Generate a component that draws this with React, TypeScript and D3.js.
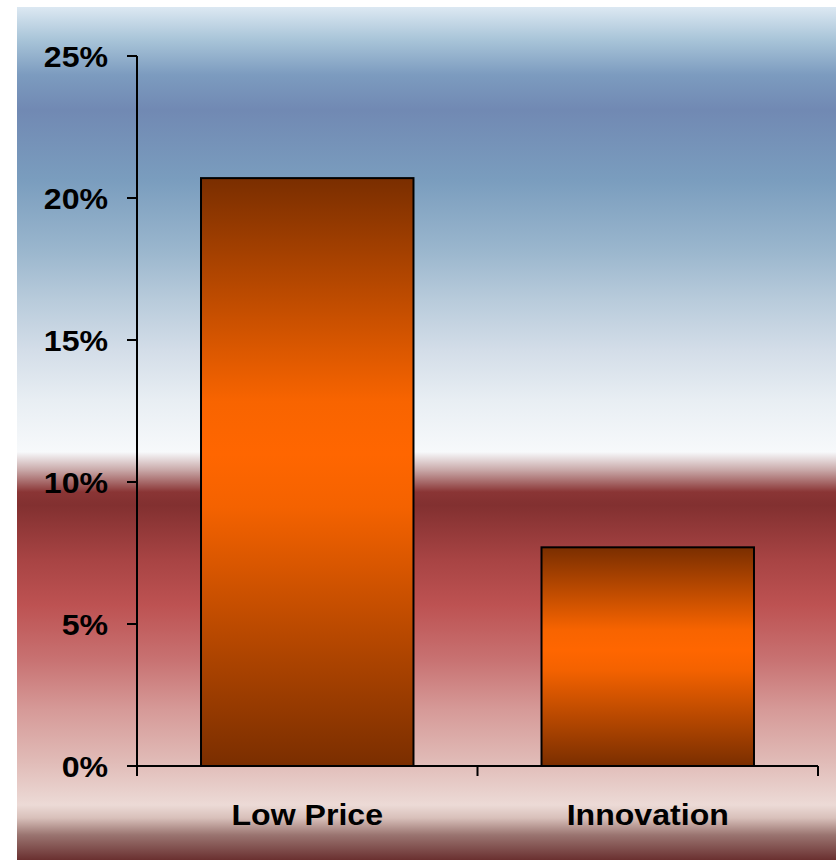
import React from "react";
import * as d3 from "d3";

const categories: string[] = ["Low Price", "Innovation"];
const values: number[] = [0.207, 0.077];
const yTicks: number[] = [0, 0.05, 0.1, 0.15, 0.2, 0.25];

const W = 836;
const H = 860;
const M = { left: 137, right: 18, top: 56, bottom: 94 };
const SX = 1.07;

export default function App() {
  const x = d3
    .scaleBand<string>()
    .domain(categories)
    .range([M.left, W - M.right])
    .paddingInner(0.376)
    .paddingOuter(0.188);
  const xOuter = d3.scaleBand<string>().domain(categories).range([M.left, W - M.right]);
  const y = d3.scaleLinear().domain([0, 0.25]).range([H - M.bottom, M.top]);
  const fmt = d3.format(".0%");
  const y0 = y(0);

  const bgStops: [number, string][] = [
    [7, "#dce8f2"],
    [40, "#a8c4d8"],
    [75, "#7c9bbf"],
    [110, "#7189b3"],
    [180, "#7a9dbe"],
    [250, "#9ab6cd"],
    [300, "#b8cbdb"],
    [350, "#d3dde8"],
    [400, "#e8eef3"],
    [452, "#f7f9fb"],
    [470, "#c9a9a9"],
    [492, "#8a3535"],
    [505, "#823030"],
    [560, "#a84444"],
    [605, "#bd5252"],
    [660, "#c87272"],
    [710, "#d69a98"],
    [760, "#e0bab6"],
    [805, "#ecdad6"],
    [818, "#d8c0ba"],
    [835, "#9a7470"],
    [860, "#6a3030"],
  ];

  return (
    <svg
      width={W}
      height={H}
      style={{ position: "absolute", left: 0, top: 0, background: "#fff" }}
      fontFamily="'Liberation Sans', Arial, sans-serif"
    >
      <defs>
        <linearGradient id="bg" gradientUnits="userSpaceOnUse" x1={0} y1={7} x2={0} y2={860}>
          {bgStops.map(([p, c], i) => (
            <stop key={i} offset={(p - 7) / (860 - 7)} stopColor={c} />
          ))}
        </linearGradient>
        <linearGradient id="bar" x1={0} y1={0} x2={0} y2={1}>
          <stop offset={0} stopColor="#7a2e00" />
          <stop offset={0.38} stopColor="#f86400" />
          <stop offset={0.47} stopColor="#ff6600" />
          <stop offset={0.56} stopColor="#f46200" />
          <stop offset={1} stopColor="#7a2e00" />
        </linearGradient>
      </defs>
      <rect x={17} y={7} width={W - 17} height={H - 7} fill="url(#bg)" />

      {categories.map((c, i) => (
        <rect
          key={c}
          x={x(c)}
          y={y(values[i])}
          width={x.bandwidth()}
          height={y0 - y(values[i])}
          fill="url(#bar)"
          stroke="#000"
          strokeWidth={2}
        />
      ))}

      {/* y axis */}
      <line x1={M.left} x2={M.left} y1={y(0.25)} y2={y0 + 10} stroke="#000" strokeWidth={2} />
      {yTicks.map((t) => (
        <g key={t}>
          <line x1={M.left - 10} x2={M.left} y1={y(t)} y2={y(t)} stroke="#000" strokeWidth={2} />
          <text
            transform={`translate(108,${y(t)}) scale(${SX},1)`}
            dy="0.36em"
            textAnchor="end"
            fontWeight="bold"
            fontSize={30}
            fill="#000"
          >
            {fmt(t)}
          </text>
        </g>
      ))}

      {/* x axis */}
      <line x1={M.left} x2={W - M.right} y1={y0} y2={y0} stroke="#000" strokeWidth={2} />
      {[...categories.map((c) => xOuter(c) as number), W - M.right].map((px, i) => (
        <line key={i} x1={px} x2={px} y1={y0} y2={y0 + 10} stroke="#000" strokeWidth={2} />
      ))}
      {categories.map((c) => (
        <text
          key={c}
          transform={`translate(${(x(c) as number) + x.bandwidth() / 2},825) scale(${SX},1)`}
          textAnchor="middle"
          fontWeight="bold"
          fontSize={30}
          fill="#000"
        >
          {c}
        </text>
      ))}
    </svg>
  );
}
